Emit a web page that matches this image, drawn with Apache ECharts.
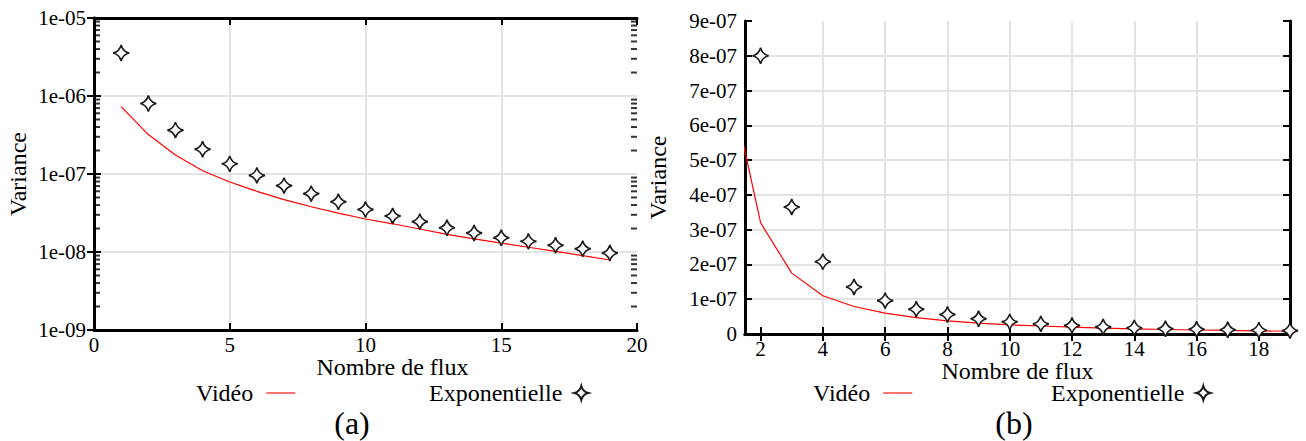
<!DOCTYPE html>
<html>
<head>
<meta charset="utf-8">
<script src="https://cdn.jsdelivr.net/npm/echarts@6/dist/echarts.min.js"></script>
<style>
html,body{margin:0;padding:0;background:#fff;}
#c{width:1306px;height:441px;}
</style>
</head>
<body>
<div id="c"></div>
<script>
// ---- data ----
const nombreFlux = [1,2,3,4,5,6,7,8,9,10,11,12,13,14,15,16,17,18,19];
const video = [7.3e-7, 3.2e-7, 1.75e-7, 1.1e-7, 7.9e-8, 6.0e-8, 4.7e-8, 3.8e-8, 3.15e-8, 2.65e-8,
               2.3e-8, 1.97e-8, 1.68e-8, 1.47e-8, 1.3e-8, 1.15e-8, 1.02e-8, 9.0e-9, 7.9e-9];
const exponentielle = [3.56e-6, 8.0e-7, 3.65e-7, 2.08e-7, 1.35e-7, 9.6e-8, 7.1e-8, 5.6e-8, 4.4e-8, 3.5e-8,
               2.9e-8, 2.45e-8, 2.05e-8, 1.75e-8, 1.52e-8, 1.37e-8, 1.22e-8, 1.1e-8, 9.7e-9];
const leftDecades = [1e-9, 1e-8, 1e-7, 1e-6, 1e-5];
const leftMinorMult = [2,3,4,5,6,7,8,9];
const leftXRange = [0, 20];
const rightXTicks = [2,4,6,8,10,12,14,16,18];
const seriesNames = ['Vidéo', 'Exponentielle'];
const axisNames = {x: 'Nombre de flux', y: 'Variance'};
const captions = ['(a)', '(b)'];

// ---- helpers ----
const FONT = 'serif';
const STAR = 'path://M0,-10 Q2,-2 10,0 Q2,2 0,10 Q-2,2 -10,0 Q-2,-2 0,-10 Z';
const LINE_ICON = 'path://M0,0 L30,0 L30,1.4 L0,1.4 Z';
function fmt(v){
  if (Math.abs(v) < 1e-15) return '0';
  return v.toExponential(0).replace(/e([+-])(\d)$/, 'e$10$2');
}
const leftMinor = [];
leftDecades.slice(0, -1).forEach(d => leftMinorMult.forEach(m => leftMinor.push(m * d)));
const pairs = (ys) => nombreFlux.map((x, i) => [x, ys[i]]);

const tickMajor = {show:true, inside:true, length:7, lineStyle:{color:'#000', width:2}};
const frameLine = {show:true, lineStyle:{color:'#000', width:3}};
const split = {show:true, showMinLine:false, showMaxLine:false, lineStyle:{color:'#e3e3e3', width:2}};
const labelStyle = {color:'#000', fontFamily:FONT, fontSize:21};
const nameStyle = {color:'#000', fontFamily:FONT, fontSize:24};

const chart = echarts.init(document.getElementById('c'), null, {renderer:'svg'});

const lineSeries = (xi, yi) => ({
  name: seriesNames[0], type:'line', xAxisIndex:xi, yAxisIndex:yi,
  data: pairs(video), showSymbol:false, symbol:'none', clip:true,
  lineStyle:{color:'#ff0000', width:1.2}, itemStyle:{color:'#ff0000'}, z:3
});
const starSeries = (xi, yi) => ({
  name: seriesNames[1], type:'scatter', xAxisIndex:xi, yAxisIndex:yi,
  data: pairs(exponentielle), symbol: STAR, symbolSize: 16, symbolKeepAspect:true,
  itemStyle:{color:'#ffffff', borderColor:'#1a1a1a', borderWidth:1.6, opacity:1}, z:4, clip:false
});
// minor log ticks (inside, on both vertical edges of the left plot)
const minorTicks = (xEdge, dir) => ({
  name:'minor', type:'scatter', xAxisIndex:0, yAxisIndex:0, silent:true, clip:false,
  data: leftMinor.map(v => [xEdge, v]), symbol:'rect', symbolSize:[6,2], symbolOffset:[3*dir,0],
  itemStyle:{color:'#000'}, z:6, tooltip:{show:false}
});

const legendLine = (left) => ({
  data:[{name:seriesNames[0], icon:LINE_ICON, itemStyle:{color:'#ff3030'}}],
  left:left, top:376, align:'right', itemWidth:29, itemHeight:14,
  selectedMode:false, textStyle:Object.assign({padding:[0,8,0,0]}, nameStyle)
});
const legendStar = (left) => ({
  data:[{name:seriesNames[1], icon:STAR}],
  left:left, top:376, align:'right', itemWidth:14, itemHeight:14,
  selectedMode:false, textStyle:Object.assign({padding:[0,7,0,0]}, nameStyle)
});

const option = {
  animation:false,
  backgroundColor:'#fff',
  textStyle:{fontFamily:FONT},
  grid:[
    {left:94, top:18, width:543, height:312},
    {left:745, top:21, width:545, height:313}
  ],
  xAxis:[
    {gridIndex:0, type:'value', min:leftXRange[0], max:leftXRange[1], interval:5, position:'bottom',
     axisLine:frameLine, axisTick:tickMajor, splitLine:split,
     axisLabel:Object.assign({margin:4, formatter: v => String(v)}, labelStyle),
     name:axisNames.x, nameLocation:'middle', nameGap:25, nameMoveOverlap:false,
     nameTextStyle:Object.assign({padding:[0,0,0,54]}, nameStyle)},
    {gridIndex:0, type:'value', min:leftXRange[0], max:leftXRange[1], interval:5, position:'top',
     axisLine:frameLine, axisTick:tickMajor, splitLine:{show:false}, axisLabel:{show:false}},
    {gridIndex:1, type:'value', min:1.5, max:19, position:'bottom',
     axisLine:frameLine, axisTick:Object.assign({customValues:rightXTicks}, tickMajor), splitLine:split,
     axisLabel:Object.assign({margin:4, customValues:rightXTicks, formatter: v => String(v)}, labelStyle),
     name:axisNames.x, nameLocation:'middle', nameGap:25, nameMoveOverlap:false, nameTextStyle:nameStyle},
    {gridIndex:1, type:'value', min:1.5, max:19, position:'top',
     axisLine:frameLine, axisTick:Object.assign({customValues:rightXTicks}, tickMajor),
     splitLine:{show:false}, axisLabel:{show:false}}
  ],
  yAxis:[
    {gridIndex:0, type:'log', logBase:10, min:1e-9, max:1e-5, position:'left',
     axisLine:frameLine, axisTick:Object.assign({customValues:leftDecades}, tickMajor), splitLine:split,
     axisLabel:Object.assign({margin:8, customValues:leftDecades, formatter:fmt}, labelStyle),
     name:axisNames.y, nameLocation:'middle', nameGap:64, nameMoveOverlap:false, nameTextStyle:nameStyle},
    {gridIndex:0, type:'log', logBase:10, min:1e-9, max:1e-5, position:'right',
     axisLine:frameLine, axisTick:Object.assign({customValues:leftDecades}, tickMajor),
     splitLine:{show:false}, axisLabel:{show:false}},
    {gridIndex:1, type:'value', min:0, max:9e-7, interval:1e-7, position:'left',
     axisLine:frameLine, axisTick:tickMajor, splitLine:split,
     axisLabel:Object.assign({margin:8, formatter:fmt}, labelStyle),
     name:axisNames.y, nameLocation:'middle', nameGap:75, nameMoveOverlap:false, nameTextStyle:nameStyle},
    {gridIndex:1, type:'value', min:0, max:9e-7, interval:1e-7, position:'right',
     axisLine:frameLine, axisTick:tickMajor, splitLine:{show:false}, axisLabel:{show:false}}
  ],
  legend:[ legendLine(191), legendStar(424), legendLine(808), legendStar(1046) ],
  graphic:[
    {type:'text', x:352, y:407, style:{text:captions[0], fill:'#000', font:"32px serif", align:'center', verticalAlign:'top'}},
    {type:'text', x:1014, y:407, style:{text:captions[1], fill:'#000', font:"32px serif", align:'center', verticalAlign:'top'}}
  ],
  series:[
    lineSeries(0, 0), starSeries(0, 0),
    minorTicks(leftXRange[0], 1), minorTicks(leftXRange[1], -1),
    lineSeries(2, 2), starSeries(2, 2)
  ]
};
chart.setOption(option);
</script>
</body>
</html>
